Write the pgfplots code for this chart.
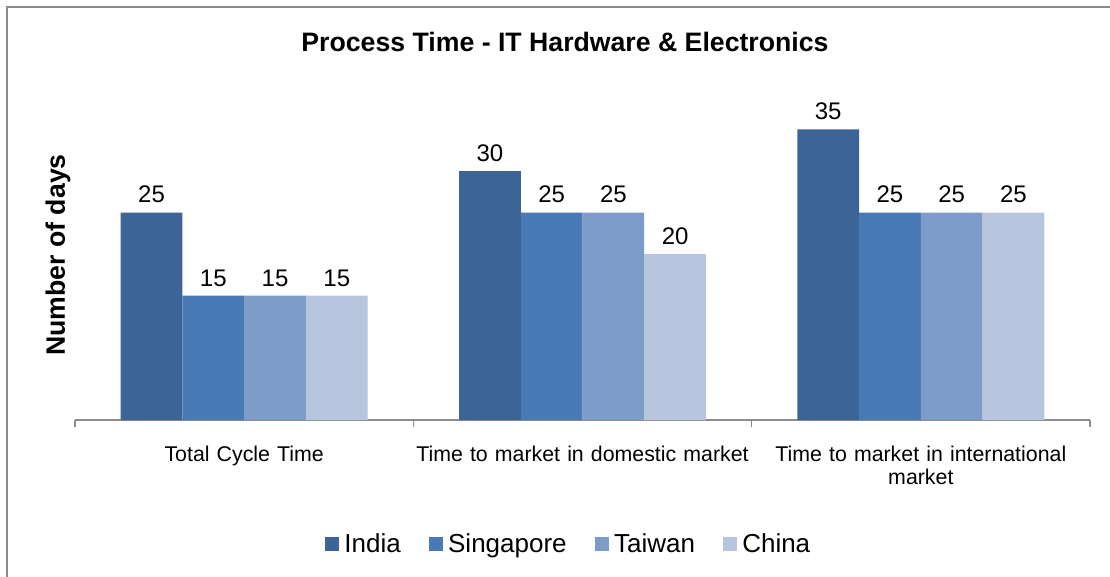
\documentclass[border=0pt]{standalone}
\usepackage{fontspec}
\setmainfont{Liberation Sans}
\usepackage{pgfplots}
\pgfplotsset{compat=1.18}
\definecolor{cIndia}{RGB}{60,100,151}
\definecolor{cSing}{RGB}{74,122,181}
\definecolor{cTai}{RGB}{126,156,201}
\definecolor{cChina}{RGB}{183,197,223}
\definecolor{frameg}{RGB}{140,140,140}
\begin{document}
\begin{tikzpicture}
\useasboundingbox (0,0) rectangle (832.5pt,-432.75pt);
\draw[frameg, line width=2pt] (5.25pt,-432.75pt) -- (5.25pt,-5.25pt) -- (832.5pt,-5.25pt);
\node[font=\fontsize{20}{22}\selectfont\bfseries] at (423.75pt,-31.5pt) {Process Time - IT Hardware \& Electronics};
\begin{axis}[
  at={(56.25pt,-315pt)}, anchor=south west,
  scale only axis, width=761.25pt, height=249pt,
  xmin=-0.5, xmax=2.5, ymin=0, ymax=40,
  ybar=0pt, bar width=46.3pt,
  /pgf/number format/assume math mode=true,
  axis x line*=bottom, axis y line=none,
  x axis line style={-, draw=frameg, line width=0.9pt},
  xtick={0,1,2},
  xticklabels={Total Cycle Time, Time to market in domestic market, {Time to market in international\\market}},
  major tick length=0pt,
  minor xtick={-0.5,0.5,1.5,2.5},
  minor tick length=5pt,
  tick align=outside,
  minor tick style={draw=frameg, line width=0.9pt},
  xticklabel style={font=\fontsize{16}{17.25}\selectfont, text width=250pt, align=center, inner sep=0pt, anchor=north, yshift=-19pt},
  ytick=\empty,
  clip=false,
  nodes near coords,
  every node near coord/.append style={font=\fontsize{18}{20}\selectfont, anchor=south, inner sep=0pt, yshift=6.75pt},
  legend columns=4,
  legend style={at={(rel axis cs:0.4867,-0.3735)}, anchor=center, draw=none, font=\fontsize{19.5}{21}\selectfont,
    /tikz/every odd column/.append style={column sep=2pt},
    /tikz/every even column/.append style={column sep=19pt}},
  legend image code/.code={\fill[#1] (0pt,-5.25pt) rectangle (10.5pt,5.25pt);},
]
\addplot[fill=cIndia, draw=none] coordinates {(0,25) (1,30) (2,35)};
\addplot[fill=cSing, draw=none] coordinates {(0,15) (1,25) (2,25)};
\addplot[fill=cTai, draw=none] coordinates {(0,15) (1,25) (2,25)};
\addplot[fill=cChina, draw=none] coordinates {(0,15) (1,20) (2,25)};
\legend{India, Singapore, Taiwan, China}
\node[rotate=90, font=\fontsize{20}{22}\selectfont\bfseries, anchor=center] at (rel axis cs:-0.01675,0.497) {Number of days};
\end{axis}
\end{tikzpicture}
\end{document}
